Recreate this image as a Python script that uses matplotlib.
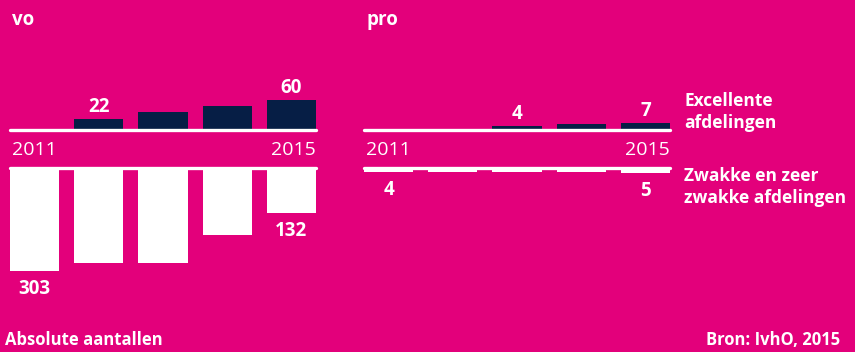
import matplotlib
matplotlib.use('Agg')
import matplotlib.pyplot as plt
from matplotlib.lines import Line2D

plt.rcParams['font.family'] = ['Open Sans', 'DejaVu Sans']

# aantallen per jaar 2011-2015
years = ['2011', '2012', '2013', '2014', '2015']
vo_excellent = [0, 22, 37, 48, 60]
vo_zwak = [303, 278, 278, 196, 132]
pro_excellent = [0, 0, 4, 6, 7]
pro_zwak = [4, 4, 4, 4, 5]

# welke waarden krijgen een label (index)
vo_exc_labels = [1, 4]
vo_zwak_labels = [0, 4]
pro_exc_labels = [2, 4]
pro_zwak_labels = [0, 4]

BG = '#E3007B'
NAVY = '#061E45'
WHITE = 'white'

W, H = 855, 352
fig = plt.figure(figsize=(W / 100, H / 100), dpi=100, facecolor=BG)


def px_axes(x0, top, w, h):
    ax = fig.add_axes([x0 / W, 1 - (top + h) / H, w / W, h / H])
    ax.set_axis_off()
    ax.patch.set_alpha(0)
    return ax


def hline(x0, x1, y):
    fig.add_artist(Line2D([x0 / W, x1 / W], [1 - y / H, 1 - y / H], color=WHITE,
                          lw=2.4, solid_capstyle='round', transform=fig.transFigure))


def panel(x0, name, exc, zwak, exc_lab, zwak_lab, exc_scale, zwak_scale):
    width = 306
    bw = 0.766
    xs = range(len(years))

    # bovenste deel: excellente afdelingen
    ax_top = px_axes(x0, 60, width, 70)
    ax_top.bar(xs, exc, width=bw, color=NAVY, zorder=1)
    ax_top.set_xlim(-bw / 2, len(years) - 1 + bw / 2)
    ax_top.set_ylim(0, 70 / exc_scale)
    for i in exc_lab:
        ax_top.annotate(str(exc[i]), (i, exc[i]), xytext=(0, 1.5), textcoords='offset points',
                        ha='center', va='bottom', color=WHITE, fontsize=13.5, fontweight='bold')

    # onderste deel: zwakke en zeer zwakke afdelingen
    ax_bot = px_axes(x0, 168, width, 150)
    ax_bot.bar(xs, zwak, width=bw, color=WHITE, zorder=1)
    ax_bot.set_xlim(-bw / 2, len(years) - 1 + bw / 2)
    ax_bot.set_ylim(150 / zwak_scale, 0)
    for i in zwak_lab:
        ax_bot.annotate(str(zwak[i]), (i, zwak[i]), xytext=(0, -6), textcoords='offset points',
                        ha='center', va='top', color=WHITE, fontsize=13.5, fontweight='bold')

    hline(x0, x0 + width, 129.5)
    hline(x0, x0 + width, 168)

    fig.text((x0 + 2) / W, 1 - 150 / H, years[0], color=WHITE, fontsize=14,
             ha='left', va='center')
    fig.text((x0 + width) / W, 1 - 150 / H, years[-1], color=WHITE, fontsize=14,
             ha='right', va='center')
    fig.text((x0 + 2) / W, 1 - 20 / H, name, color=WHITE, fontsize=13.5,
             fontweight='bold', ha='left', va='center')


panel(10, 'vo', vo_excellent, vo_zwak, vo_exc_labels, vo_zwak_labels, 0.5, 0.34)
panel(364, 'pro', pro_excellent, pro_zwak, pro_exc_labels, pro_zwak_labels, 1.0, 1.0)

fig.text(684 / W, 1 - 112 / H, 'Excellente\nafdelingen', color=WHITE, fontsize=12.5,
         fontweight='bold', ha='left', va='center', linespacing=1.3)
fig.text(684 / W, 1 - 187 / H, 'Zwakke en zeer\nzwakke afdelingen', color=WHITE, fontsize=12.5,
         fontweight='bold', ha='left', va='center', linespacing=1.3)

fig.text(5 / W, 1 - 340 / H, 'Absolute aantallen', color=WHITE, fontsize=12,
         fontweight='bold', ha='left', va='center')
fig.text(840 / W, 1 - 340 / H, 'Bron: IvhO, 2015', color=WHITE, fontsize=12,
         fontweight='bold', ha='right', va='center')

fig.savefig('out.png', dpi=100, facecolor=BG)
